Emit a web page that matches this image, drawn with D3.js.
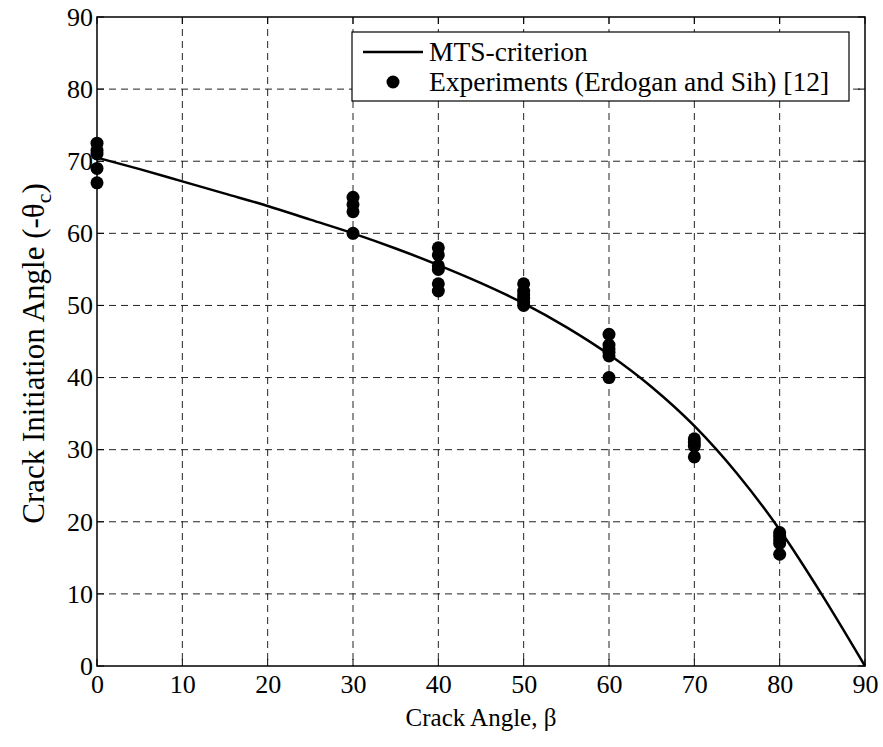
<!DOCTYPE html>
<html><head><meta charset="utf-8">
<script src="https://cdn.jsdelivr.net/npm/d3@7"></script>
<style>body{margin:0;background:#fff}svg{display:block;font-family:"Liberation Serif","Times New Roman",serif}</style>
</head><body><svg id="c" width="883" height="747"></svg>
<script>
const xTicks = [0,10,20,30,40,50,60,70,80,90];
const yTicks = [0,10,20,30,40,50,60,70,80,90];
// MTS-criterion curve
const curveBeta  = [0,5,10,15,20,25,30,35,40,45,50,55,60,65,70,75,80,85,90];
const curveTheta = [70.5,68.9,67.2,65.5,63.8,61.9,60.0,57.9,55.6,53.1,50.3,47.0,43.2,38.7,33.3,26.7,18.9,9.8,0];
// Experiments (Erdogan and Sih)
const expBeta  = [0,0,0,0,0, 30,30,30,30, 40,40,40,40,40,40, 50,50,50,50,50,50, 60,60,60,60,60,60, 70,70,70,70, 80,80,80,80,80];
const expTheta = [72.5,71.5,71,69,67, 65,64,63,60, 58,57,55.5,55,53,52, 53,52,51.5,51,50.5,50, 46,44.5,44,43.5,43,40, 31.5,31,30.5,29, 18.5,18,17.5,17,15.5];

const FS = 26;
const svg = d3.select('#c');
const L=97, R=865, T=17, B=666;
const x = d3.scaleLinear().domain([0,90]).range([L,R]);
const y = d3.scaleLinear().domain([0,90]).range([B,T]);

// grid
const g = svg.append('g');
g.selectAll('.vg').data(xTicks.slice(1,-1)).enter().append('line')
  .attr('x1',d=>x(d)).attr('x2',d=>x(d)).attr('y1',T).attr('y2',B)
  .attr('stroke','#222').attr('stroke-width',1).attr('stroke-dasharray','7,5');
g.selectAll('.hg').data(yTicks.slice(1,-1)).enter().append('line')
  .attr('y1',d=>y(d)).attr('y2',d=>y(d)).attr('x1',L).attr('x2',R)
  .attr('stroke','#222').attr('stroke-width',1).attr('stroke-dasharray','7,5');

// axes
const xa = svg.append('g').attr('transform',`translate(0,${B})`)
  .call(d3.axisBottom(x).tickValues(xTicks).tickSize(0).tickPadding(6));
const ya = svg.append('g').attr('transform',`translate(${L},0)`)
  .call(d3.axisLeft(y).tickValues(yTicks).tickSize(0).tickPadding(4));
[xa,ya].forEach(a=>{a.select('.domain').remove();a.selectAll('text').attr('font-size',FS).attr('font-family','"Liberation Serif",serif').attr('fill','#000');});
xa.selectAll('text').attr('dy','0.8em');
// inward tick marks
svg.append('g').selectAll('line').data(xTicks).enter().append('line')
  .attr('x1',d=>x(d)).attr('x2',d=>x(d)).attr('y1',T).attr('y2',T+7).attr('stroke','#000');
svg.append('g').selectAll('line').data(yTicks).enter().append('line')
  .attr('y1',d=>y(d)).attr('y2',d=>y(d)).attr('x1',R).attr('x2',R-7).attr('stroke','#000');
svg.append('g').selectAll('line').data(xTicks).enter().append('line')
  .attr('x1',d=>x(d)).attr('x2',d=>x(d)).attr('y1',B).attr('y2',B-7).attr('stroke','#000');
svg.append('g').selectAll('line').data(yTicks).enter().append('line')
  .attr('y1',d=>y(d)).attr('y2',d=>y(d)).attr('x1',L).attr('x2',L+7).attr('stroke','#000');

svg.append('rect').attr('x',L).attr('y',T).attr('width',R-L).attr('height',B-T)
  .attr('fill','none').attr('stroke','#000').attr('stroke-width',1.5);

// curve
const line = d3.line().curve(d3.curveMonotoneX).x((d,i)=>x(curveBeta[i])).y(d=>y(d));
svg.append('path').datum(curveTheta).attr('d',line).attr('fill','none').attr('stroke','#000').attr('stroke-width',2.5);

// points
svg.append('g').selectAll('circle').data(expTheta).enter().append('circle')
  .attr('cx',(d,i)=>x(expBeta[i])).attr('cy',d=>y(d)).attr('r',6.5).attr('fill','#000');

// legend
const lg = svg.append('g');
lg.append('rect').attr('x',352).attr('y',32).attr('width',497).attr('height',69)
  .attr('fill','#fff').attr('stroke','#000').attr('stroke-width',1.2);
lg.append('line').attr('x1',363).attr('x2',423).attr('y1',52).attr('y2',52).attr('stroke','#000').attr('stroke-width',2.5);
lg.append('text').attr('x',429).attr('y',61).attr('font-size',27.5).text('MTS-criterion');
lg.append('circle').attr('cx',393).attr('cy',82).attr('r',6.5).attr('fill','#000');
lg.append('text').attr('x',429).attr('y',91).attr('font-size',27.5).text('Experiments (Erdogan and Sih) [12]');

// axis titles
svg.append('text').attr('x',(L+R)/2).attr('y',726).attr('text-anchor','middle').attr('font-size',25).text('Crack Angle, β');
const yt = svg.append('text').attr('transform',`translate(44,${(T+B)/2+12}) rotate(-90)`).attr('text-anchor','middle').attr('font-size',31);
yt.append('tspan').text('Crack Initiation Angle (-θ');
yt.append('tspan').attr('font-size',22).attr('dy',7).text('c');
yt.append('tspan').attr('dy',-7).text(')');
</script></body></html>
